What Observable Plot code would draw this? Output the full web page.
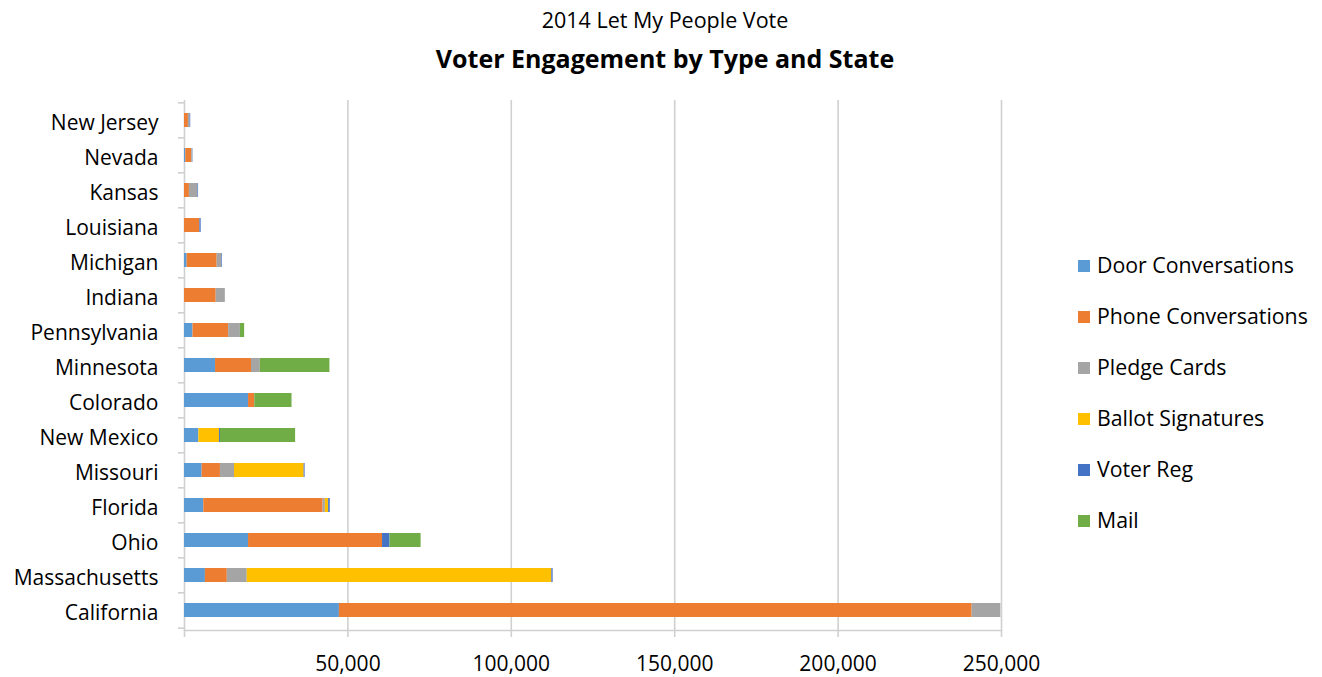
<!DOCTYPE html>
<html>
<head>
<meta charset="utf-8">
<script src="https://cdn.jsdelivr.net/npm/d3@7"></script>
<script src="https://cdn.jsdelivr.net/npm/@observablehq/plot@0.6"></script>
<style>
  html, body { margin: 0; padding: 0; background: #fff; }
  body { width: 1322px; height: 677px; overflow: hidden; position: relative; font-family: "Open Sans", sans-serif; color: #000; }
  #t1 { position: absolute; left: 0; width: 1330px; top: 5px; text-align: center; font-size: 21.5px; line-height: 30px; }
  #t2 { position: absolute; left: 0; width: 1330px; top: 41px; text-align: center; font-size: 25px; font-weight: bold; line-height: 34px; }
  #chart { position: absolute; left: 0; top: 85px; }
  #legend { position: absolute; left: 1078px; top: 0; }
  .li { position: absolute; left: 0; white-space: nowrap; font-size: 21.3px; line-height: 28px; height: 28px; }
  .sw { display: inline-block; width: 12px; height: 12px; margin-right: 7px; vertical-align: 1px; }
</style>
</head>
<body>
<div id="t1">2014 Let My People Vote</div>
<div id="t2">Voter Engagement by Type and State</div>
<div id="chart"></div>
<div id="legend"></div>
<script>
const states = ["New Jersey","Nevada","Kansas","Louisiana","Michigan","Indiana","Pennsylvania","Minnesota","Colorado","New Mexico","Missouri","Florida","Ohio","Massachusetts","California"];
const types = ["Door Conversations","Phone Conversations","Pledge Cards","Ballot Signatures","Voter Reg","Mail"];
const colors = ["#5b9bd5","#ed7d31","#a5a5a5","#ffc000","#4472c4","#70ad47"];
const door     = [0, 400, 0, 0, 800, 0, 2600, 9500, 19600, 4400, 5400, 5900, 19600, 6400, 47400];
const phone    = [1200, 1800, 1500, 4700, 9200, 9700, 10900, 11000, 1900, 0, 5600, 36500, 41000, 6700, 193600];
const pledge   = [500, 300, 2600, 0, 1400, 2800, 3600, 2700, 0, 0, 4300, 700, 0, 6100, 8800];
const ballot   = [0, 0, 0, 0, 0, 0, 0, 0, 0, 6300, 21300, 1000, 0, 93200, 0];
const voterReg = [200, 100, 200, 400, 200, 0, 0, 0, 0, 300, 300, 500, 2300, 400, 0];
const mail     = [0, 0, 0, 0, 0, 0, 1300, 21300, 11400, 23000, 0, 0, 9500, 0, 0];
const xTicks = [0, 50000, 100000, 150000, 200000, 250000];

const series = [door, phone, pledge, ballot, voterReg, mail];
const rows = [];
states.forEach((s, i) => {
  types.forEach((t, j) => rows.push({state: s, type: t, value: series[j][i]}));
});

const height = 592, mTop = 15, mBottom = 47;
const step = (height - mTop - mBottom) / states.length;
const fmt = d3.format(",");
const gridCol = "#d0d0d0";

const chart = Plot.plot({
  width: 1322,
  height,
  marginTop: mTop,
  marginBottom: mBottom,
  marginLeft: 184,
  marginRight: 321,
  style: {fontFamily: "Open Sans, sans-serif", fontSize: "21px", color: "#000", background: "#fff"},
  x: {domain: [0, 250000]},
  y: {domain: states, paddingInner: 0.6, paddingOuter: 0.3},
  color: {domain: types, range: colors},
  marks: [
    Plot.ruleX(xTicks.slice(1), {stroke: gridCol, strokeWidth: 1.6}),
    Plot.ruleX([0], {stroke: gridCol, strokeWidth: 1.6}),
    Plot.frame({anchor: "bottom", stroke: gridCol, strokeWidth: 1.6}),
    Plot.ruleY(states, {y: d => d, dy: -step / 2, x1: -1850, x2: 0, stroke: gridCol, strokeWidth: 1.6}),
    Plot.ruleY(states.slice(-1), {y: d => d, dy: step / 2, x1: -1850, x2: 0, stroke: gridCol, strokeWidth: 1.6}),
    Plot.barX(rows, {y: "state", x: "value", fill: "type", order: null}),
    Plot.axisY({tickSize: 0, tickPadding: 26, fontSize: 21, fill: "#000", label: null, dy: 3}),
    Plot.axisX({ticks: xTicks, tickFormat: d => d === 0 ? "" : fmt(d), tickSize: 7, tickPadding: 19, fontSize: 21, stroke: gridCol, strokeWidth: 1.6, fill: "#000", label: null})
  ]
});
document.getElementById("chart").appendChild(chart);

const legend = document.getElementById("legend");
const centers = [265, 316, 367, 418, 469, 520];
types.forEach((t, j) => {
  const el = document.createElement("div");
  el.className = "li";
  el.style.top = (centers[j] - 14) + "px";
  el.innerHTML = `<span class="sw" style="background:${colors[j]}"></span>${t}`;
  legend.appendChild(el);
});
</script>
</body>
</html>
